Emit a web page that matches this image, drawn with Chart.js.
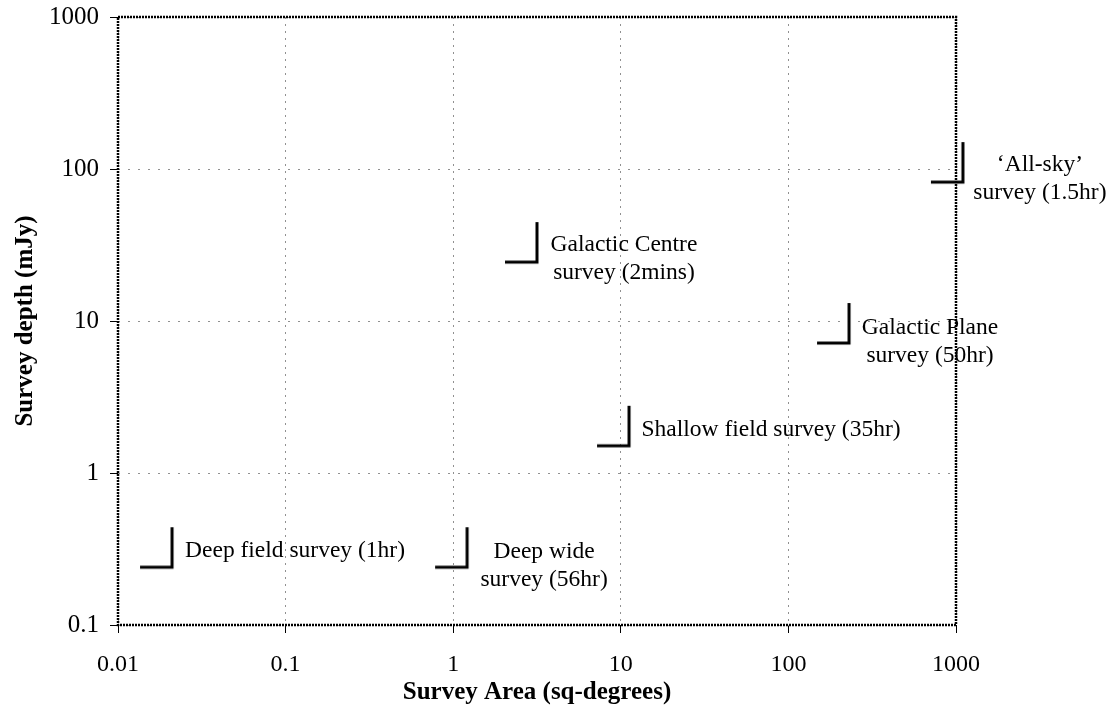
<!DOCTYPE html>
<html>
<head>
<meta charset="utf-8">
<script src="https://cdn.jsdelivr.net/npm/chart.js@4.4.1/dist/chart.umd.min.js"></script>
<style>
  body { margin: 0; background: #fff; }
</style>
</head>
<body>
<canvas id="surveyChart" width="1117" height="717"></canvas>
<script>
// survey data (area in sq-degrees, depth in mJy)
const surveyNames = [
    ['Deep field survey (1hr)'],
    ['Deep wide', 'survey (56hr)'],
    ['Galactic Centre', 'survey (2mins)'],
    ['Galactic Plane', 'survey (50hr)'],
    ['Shallow field survey (35hr)'],
    ['\u2018All-sky\u2019', 'survey (1.5hr)']
];
const areaValues = [0.021, 1.21, 3.16, 230, 11.2, 1100];
const depthValues = [0.24, 0.24, 24.4, 7.16, 1.51, 82];

const xTickValues = [0.01, 0.1, 1, 10, 100, 1000];
const xTickLabels = ['0.01', '0.1', '1', '10', '100', '1000'];
const yTickValues = [0.1, 1, 10, 100, 1000];
const yTickLabels = ['0.1', '1', '10', '100', '1000'];

// where each label sits relative to its marker (px): centre x, first line centre y
const labelOffsets = [[123, -16], [77, -15], [87, -17], [81, -15], [142, -16], [77, -17]];

const SERIF = '"Liberation Serif", "Times New Roman", serif';

// "_|" marker, corner sits on the data point
function makeCornerMarker() {
    const c = document.createElement('canvas');
    c.width = 72;
    c.height = 88;
    const g = c.getContext('2d');
    g.strokeStyle = '#000';
    g.lineWidth = 3;
    g.beginPath();
    g.moveTo(4, 44);
    g.lineTo(36, 44);
    g.lineTo(36, 4);
    g.stroke();
    return c;
}

const framePlugin = {
    id: 'frame',
    beforeDatasetsDraw(chart) {
        const { ctx, chartArea: a } = chart;
        ctx.save();
        ctx.strokeStyle = '#000';
        ctx.lineWidth = 2.5;
        ctx.setLineDash([2, 1]);
        ctx.strokeRect(a.left, a.top, a.right - a.left, a.bottom - a.top);
        ctx.restore();
    }
};

const labelPlugin = {
    id: 'surveyLabels',
    afterDatasetsDraw(chart) {
        const { ctx, scales: { x, y } } = chart;
        ctx.save();
        ctx.font = '23.5px ' + SERIF;
        ctx.fillStyle = '#000';
        ctx.textAlign = 'center';
        ctx.textBaseline = 'middle';
        surveyNames.forEach((lines, i) => {
            const px = x.getPixelForValue(areaValues[i]) + labelOffsets[i][0];
            const py = y.getPixelForValue(depthValues[i]) + labelOffsets[i][1];
            lines.forEach((t, j) => ctx.fillText(t, px, py + j * 28));
        });
        ctx.restore();
    }
};

new Chart(document.getElementById('surveyChart'), {
    type: 'scatter',
    data: {
        datasets: [{
            data: areaValues.map((a, i) => ({ x: a, y: depthValues[i] })),
            pointStyle: makeCornerMarker(),
            pointRadius: 30,
            clip: false
        }]
    },
    options: {
        responsive: false,
        animation: false,
        layout: { autoPadding: false, padding: { top: 17, right: 161, bottom: 0, left: 0 } },
        plugins: { legend: { display: false }, tooltip: { enabled: false } },
        scales: {
            x: {
                type: 'logarithmic',
                min: 0.01,
                max: 1000,
                afterBuildTicks: s => { s.ticks = xTickValues.map(v => ({ value: v })); },
                afterFit: s => { s.height = 92; s.paddingLeft = 0; s.paddingRight = 0; },
                grid: { color: '#909090', tickColor: '#000', tickLength: 8, lineWidth: 1 },
                border: { display: false, dash: [2, 5] },
                ticks: {
                    color: '#000',
                    padding: 17,
                    maxRotation: 0,
                    font: { family: SERIF, size: 24 },
                    callback: (v, i) => xTickLabels[i]
                },
                title: {
                    display: true,
                    text: 'Survey Area (sq-degrees)',
                    color: '#000',
                    padding: { top: 0, bottom: 9 },
                    font: { family: SERIF, size: 25, weight: 'bold' }
                }
            },
            y: {
                type: 'logarithmic',
                min: 0.1,
                max: 1000,
                afterBuildTicks: s => { s.ticks = yTickValues.map(v => ({ value: v })); },
                afterFit: s => { s.width = 118; s.paddingTop = 0; s.paddingBottom = 0; },
                grid: { color: '#909090', tickColor: '#000', tickLength: 8, lineWidth: 1 },
                border: { display: false, dash: [2, 8] },
                ticks: {
                    color: '#000',
                    padding: 11,
                    font: { family: SERIF, size: 25 },
                    callback: (v, i) => yTickLabels[i]
                },
                title: {
                    display: true,
                    text: 'Survey depth (mJy)',
                    color: '#000',
                    padding: { top: 11, bottom: 0 },
                    font: { family: SERIF, size: 25, weight: 'bold' }
                }
            }
        }
    },
    plugins: [framePlugin, labelPlugin]
});
</script>
</body>
</html>
